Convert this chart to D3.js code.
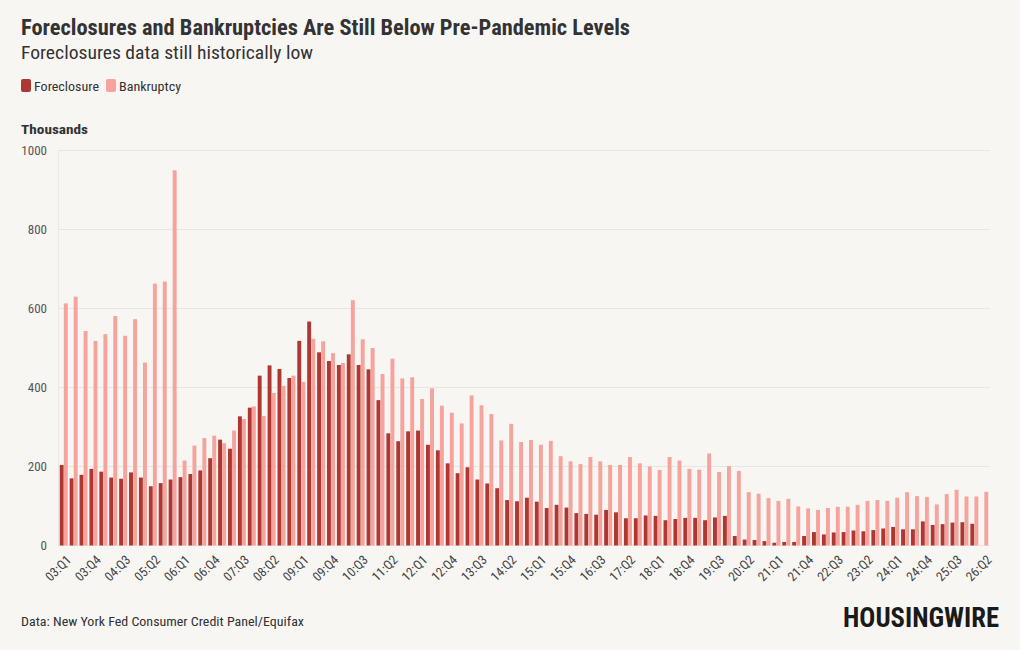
<!DOCTYPE html>
<html>
<head>
<meta charset="utf-8">
<script src="https://cdn.jsdelivr.net/npm/d3@7"></script>
<style>
  body { margin: 0; background: #f8f6f3; }
  svg { display: block; font-family: "Roboto Condensed", Roboto, sans-serif; }
</style>
</head>
<body>
<div id="chart"></div>
<script>
// quarters 03:Q1 .. 26:Q2
var quarters = [
  "03:Q1","03:Q2","03:Q3","03:Q4","04:Q1","04:Q2","04:Q3","04:Q4",
  "05:Q1","05:Q2","05:Q3","05:Q4","06:Q1","06:Q2","06:Q3","06:Q4",
  "07:Q1","07:Q2","07:Q3","07:Q4","08:Q1","08:Q2","08:Q3","08:Q4",
  "09:Q1","09:Q2","09:Q3","09:Q4","10:Q1","10:Q2","10:Q3","10:Q4",
  "11:Q1","11:Q2","11:Q3","11:Q4","12:Q1","12:Q2","12:Q3","12:Q4",
  "13:Q1","13:Q2","13:Q3","13:Q4","14:Q1","14:Q2","14:Q3","14:Q4",
  "15:Q1","15:Q2","15:Q3","15:Q4","16:Q1","16:Q2","16:Q3","16:Q4",
  "17:Q1","17:Q2","17:Q3","17:Q4","18:Q1","18:Q2","18:Q3","18:Q4",
  "19:Q1","19:Q2","19:Q3","19:Q4","20:Q1","20:Q2","20:Q3","20:Q4",
  "21:Q1","21:Q2","21:Q3","21:Q4","22:Q1","22:Q2","22:Q3","22:Q4",
  "23:Q1","23:Q2","23:Q3","23:Q4","24:Q1","24:Q2","24:Q3","24:Q4",
  "25:Q1","25:Q2","25:Q3","25:Q4","26:Q1","26:Q2"
];

// thousands
var foreclosure = [
  204,170,179,194,187,172,169,185,172,150,158,167,173,181,190,221,
  268,245,327,349,430,456,447,424,518,567,489,467,457,484,457,446,
  368,284,264,289,291,255,241,208,183,198,167,157,145,115,112,121,
  111,95,103,96,82,80,78,90,84,69,69,76,75,64,67,70,
  70,64,71,75,24,15,14,11,7,9,9,24,34,28,33,34,
  38,36,39,43,47,41,41,61,52,54,58,59,55
];

var bankruptcy = [
  613,630,543,518,535,581,531,573,463,663,668,950,215,253,272,278,
  259,291,320,352,328,386,404,430,414,523,517,487,462,621,522,500,
  434,473,423,426,371,398,354,336,309,380,355,333,266,308,262,267,
  255,265,226,213,206,224,213,204,204,224,208,200,191,224,215,194,
  192,233,186,201,189,135,131,120,113,118,99,94,90,95,98,98,
  103,113,115,113,121,135,125,123,104,130,141,124,124,136
];

var seriesNames = ["Foreclosure", "Bankruptcy"];
var seriesColors = ["#ad3732", "#f5a39c"];
var yTicks = [0, 200, 400, 600, 800, 1000];
// every third quarter gets a label
var xTickLabels = quarters.filter(function(d, i) { return i % 3 === 0; });

var width = 1020, height = 650;

var svg = d3.select("#chart").append("svg")
  .attr("width", width)
  .attr("height", height);

svg.append("rect").attr("width", width).attr("height", height).attr("fill", "#f8f6f3");

// header
svg.append("text")
  .attr("x", 21).attr("y", 35)
  .attr("font-size", 22).attr("font-weight", 700).attr("fill", "#333")
  .attr("textLength", 609).attr("lengthAdjust", "spacingAndGlyphs")
  .text("Foreclosures and Bankruptcies Are Still Below Pre-Pandemic Levels");

svg.append("text")
  .attr("x", 21).attr("y", 59)
  .attr("font-size", 18).attr("fill", "#333")
  .attr("textLength", 292).attr("lengthAdjust", "spacingAndGlyphs")
  .text("Foreclosures data still historically low");

// legend
var legendX = [21, 106];
var legendW = [65, 62];
var legend = svg.selectAll("g.legend")
  .data(seriesNames)
  .enter().append("g")
  .attr("class", "legend")
  .attr("transform", function(d, i) { return "translate(" + legendX[i] + ",79)"; });

legend.append("rect")
  .attr("width", 10).attr("height", 13).attr("rx", 2)
  .attr("fill", function(d, i) { return seriesColors[i]; });

legend.append("text")
  .attr("x", 13).attr("y", 11.5)
  .attr("font-size", 13).attr("fill", "#333")
  .attr("textLength", function(d, i) { return legendW[i]; })
  .attr("lengthAdjust", "spacingAndGlyphs")
  .text(function(d) { return d; });

svg.append("text")
  .attr("x", 21).attr("y", 134)
  .attr("font-size", 13).attr("font-weight", 700).attr("fill", "#333")
  .attr("textLength", 67).attr("lengthAdjust", "spacingAndGlyphs")
  .text("Thousands");

// scales
var x0 = d3.scaleBand()
  .domain(quarters)
  .range([59, 989])
  .paddingInner(0.16)
  .paddingOuter(0.06);

var x1 = d3.scaleBand()
  .domain(seriesNames)
  .range([0, x0.bandwidth()])
  .padding(0.04);

var y = d3.scaleLinear()
  .domain([0, 1000])
  .range([545.5, 150.5]);

// gridlines
svg.append("g")
  .selectAll("line")
  .data(yTicks)
  .enter().append("line")
  .attr("x1", 58).attr("x2", 990)
  .attr("y1", function(d) { return y(d); })
  .attr("y2", function(d) { return y(d); })
  .attr("stroke", "#e9e6e1")
  .attr("stroke-width", 1);

svg.append("line")
  .attr("x1", 58.5).attr("x2", 58.5)
  .attr("y1", y(1000)).attr("y2", y(0))
  .attr("stroke", "#ece9e4");

// y axis
var yAxis = svg.append("g")
  .attr("transform", "translate(47,0)")
  .call(d3.axisLeft(y).tickValues(yTicks).tickFormat(d3.format("d")).tickSize(0).tickPadding(0));
yAxis.select(".domain").remove();
yAxis.selectAll("text")
  .attr("font-size", 13).attr("fill", "#555")
  .attr("font-family", "'Roboto Condensed', Roboto, sans-serif");

// bars
var rows = quarters.map(function(q, i) {
  return { q: q, values: [foreclosure[i], bankruptcy[i]] };
});

var groups = svg.append("g")
  .selectAll("g")
  .data(rows)
  .enter().append("g")
  .attr("transform", function(d) { return "translate(" + x0(d.q) + ",0)"; });

groups.selectAll("rect")
  .data(function(d) {
    return d.values.map(function(v, i) { return { key: seriesNames[i], value: v, idx: i }; });
  })
  .enter().append("rect")
  .attr("x", function(d) { return x1(d.key); })
  .attr("width", x1.bandwidth())
  .attr("y", function(d) { return y(d.value); })
  .attr("height", function(d) { return y(0) - y(d.value); })
  .attr("fill", function(d) { return seriesColors[d.idx]; });

// x axis
var xAxis = svg.append("g")
  .attr("transform", "translate(0," + (y(0) + 4) + ")")
  .call(d3.axisBottom(x0).tickValues(xTickLabels).tickSize(0).tickPadding(0));
xAxis.select(".domain").remove();
xAxis.selectAll("text")
  .attr("font-size", 13).attr("fill", "#444")
  .attr("font-family", "'Roboto Condensed', Roboto, sans-serif")
  .attr("text-anchor", "end")
  .attr("dy", "0.35em")
  .attr("transform", "translate(5,8) rotate(-45)");

// footer
svg.append("text")
  .attr("x", 21).attr("y", 626)
  .attr("font-size", 13).attr("fill", "#333")
  .attr("textLength", 283).attr("lengthAdjust", "spacingAndGlyphs")
  .text("Data: New York Fed Consumer Credit Panel/Equifax");

svg.append("text")
  .attr("x", 843).attr("y", 627)
  .attr("font-size", 27).attr("font-weight", 700).attr("fill", "#1a1a1a")
  .attr("font-family", "'Roboto Condensed', Roboto, sans-serif")
  .attr("textLength", 156).attr("lengthAdjust", "spacingAndGlyphs")
  .text("HOUSINGWIRE");
</script>
</body>
</html>
